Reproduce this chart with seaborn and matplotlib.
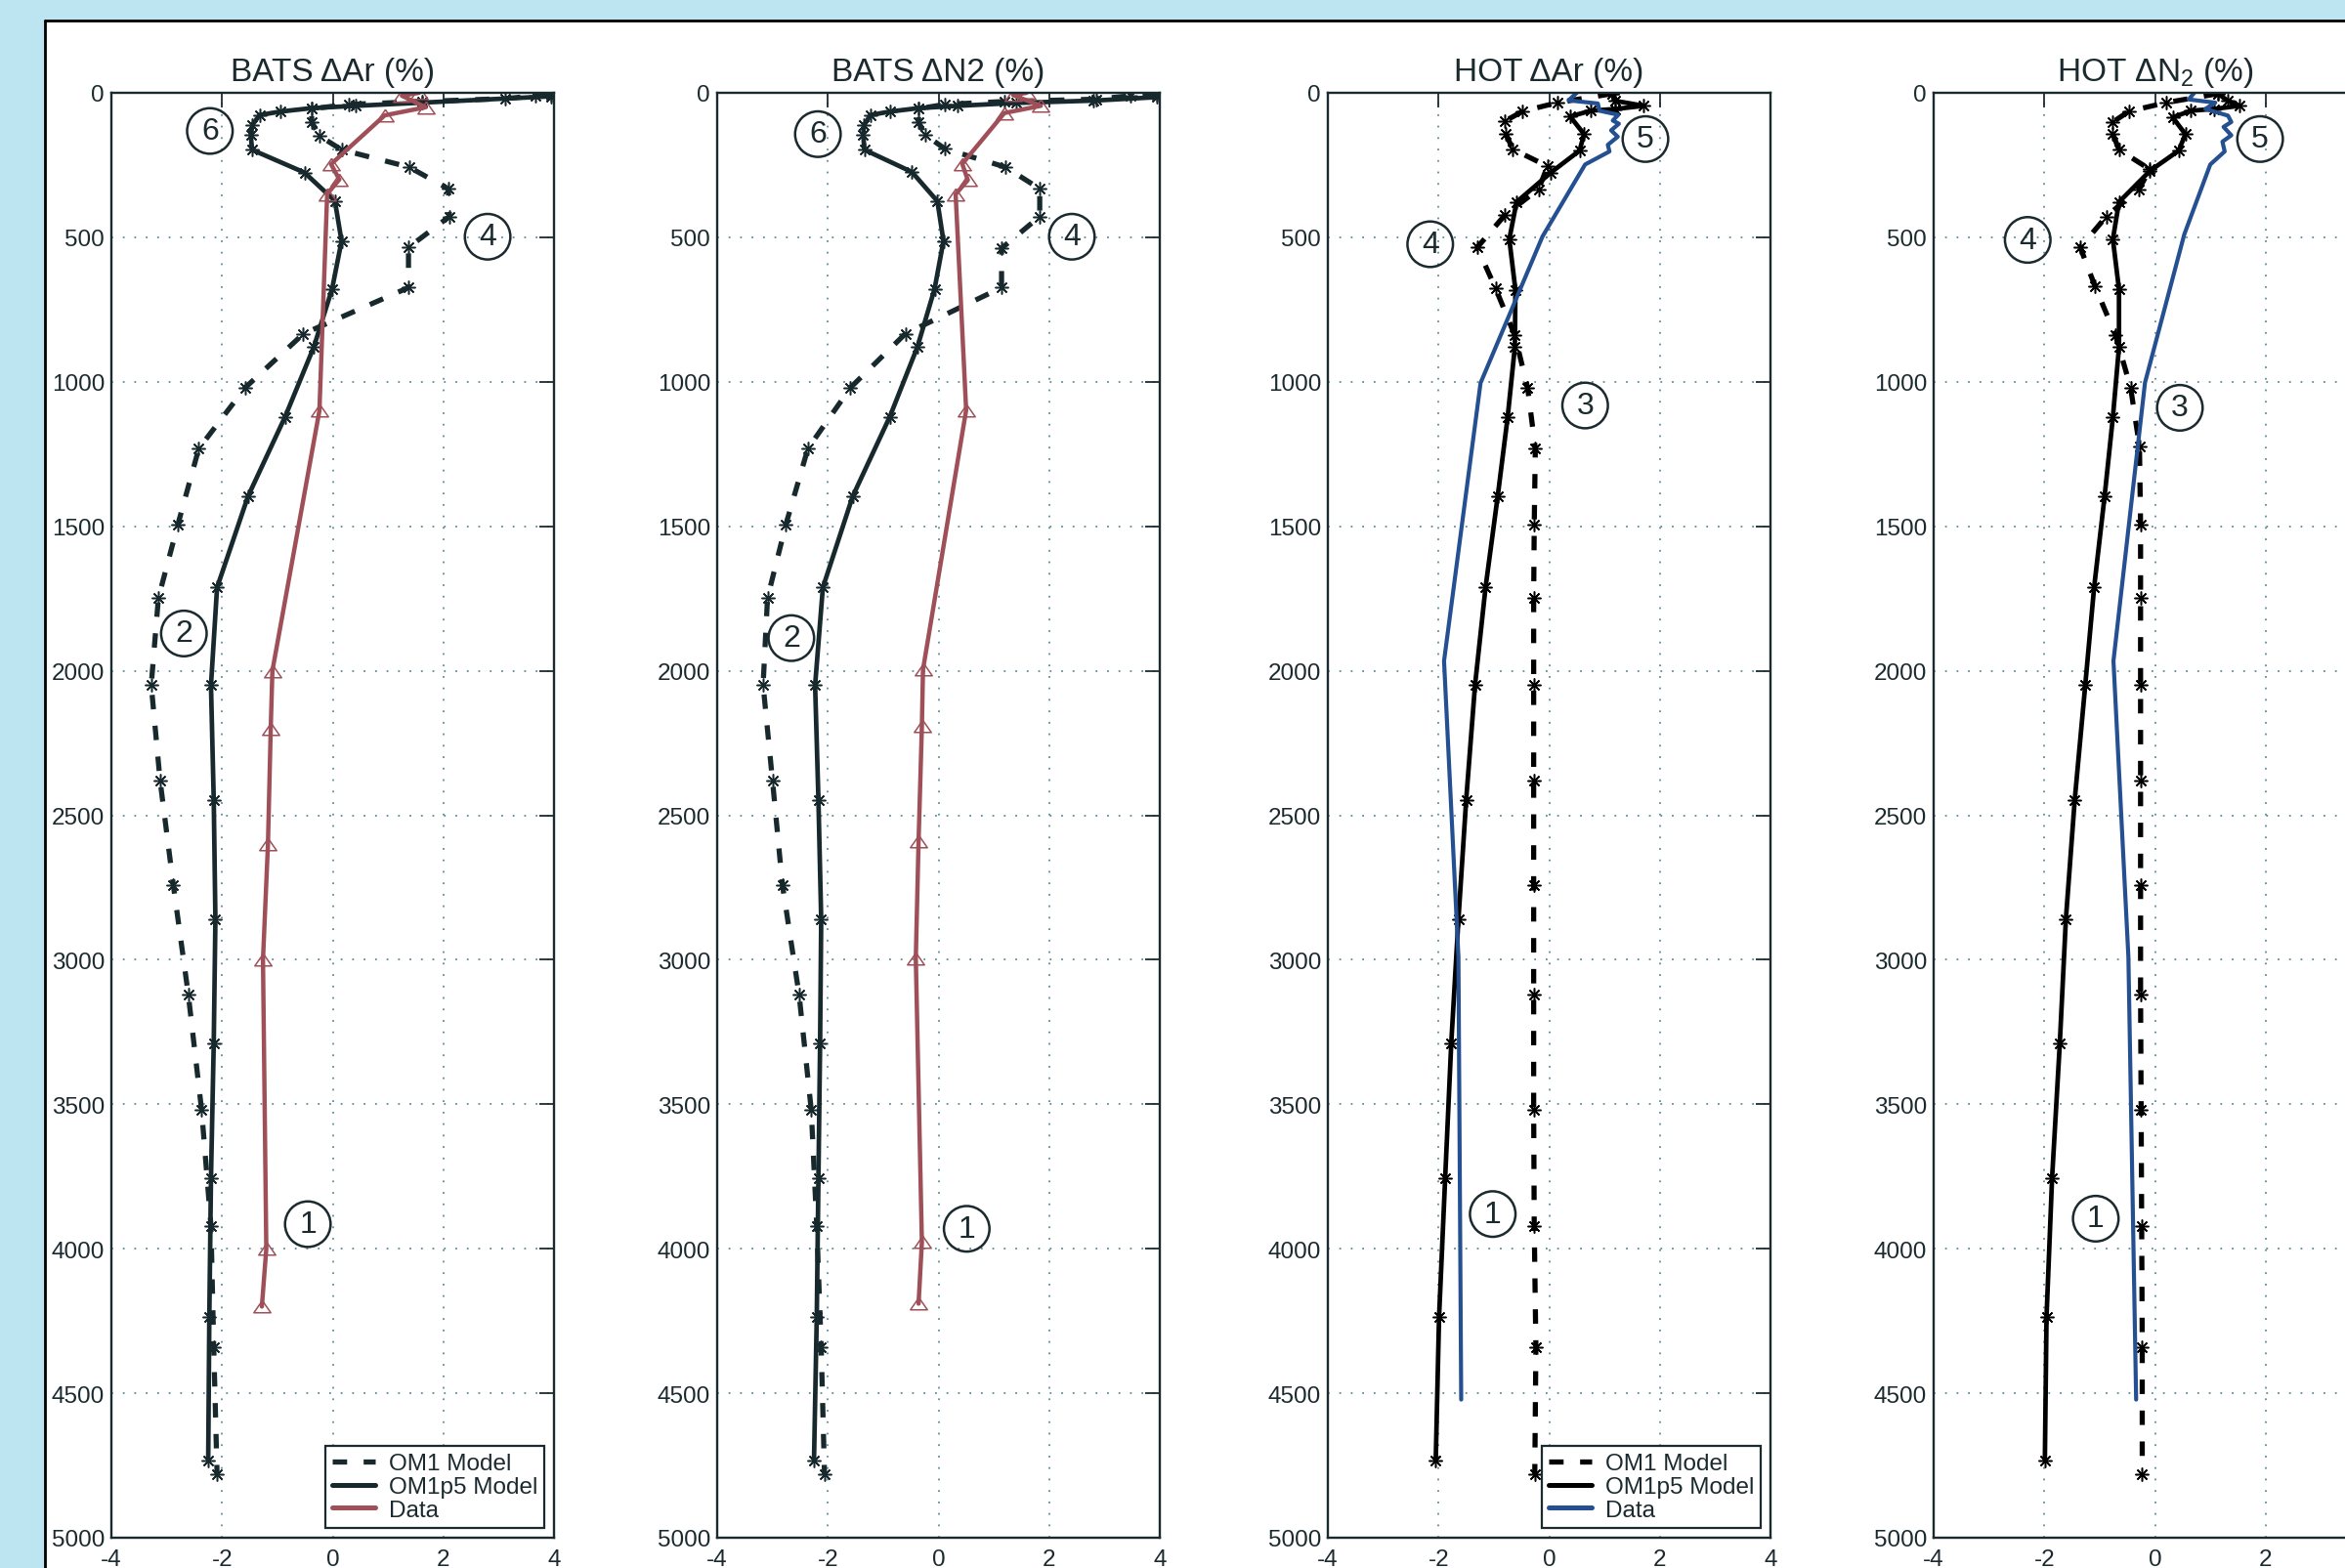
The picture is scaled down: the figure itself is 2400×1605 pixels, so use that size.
import matplotlib
matplotlib.use("Agg")
import matplotlib.pyplot as plt
import seaborn as sns
from matplotlib.lines import Line2D
from matplotlib.patches import Rectangle

# ---------------------------------------------------------------- data
# BATS Delta Ar (%)
bats_ar_om1_depth = [6, 10, 20, 30, 40, 55, 101, 149, 197, 257, 332, 428, 535, 674, 834,
                     1020, 1231, 1495, 1748, 2049, 2380, 2742, 3120, 3519, 3921, 4340, 4780]
bats_ar_om1 = [3.95, 3.67, 3.12, 1.62, 0.3, -0.38, -0.38, -0.24, 0.16, 1.38, 2.09, 2.11, 1.37,
               1.37, -0.53, -1.58, -2.42, -2.8, -3.15, -3.28, -3.12, -2.88, -2.61, -2.37,
               -2.2, -2.15, -2.09]
bats_ar_p5_depth = [12, 34, 45, 53, 65, 77, 110, 144, 197, 276, 374, 513, 678, 879, 1121,
                    1396, 1712, 2050, 2447, 2860, 3290, 3757, 4236, 4733]
bats_ar_p5 = [3.95, 1.62, 0.42, -0.38, -0.95, -1.32, -1.45, -1.48, -1.46, -0.51, 0.04, 0.16,
              -0.01, -0.34, -0.86, -1.53, -2.09, -2.2, -2.15, -2.12, -2.15, -2.2, -2.23, -2.25]
bats_ar_obs_depth = [0, 10, 50, 78, 247, 300, 350, 1100, 2000, 2200, 2600, 3000, 4000, 4200]
bats_ar_obs = [1.56, 1.25, 1.68, 0.94, -0.03, 0.12, -0.1, -0.24, -1.09, -1.12, -1.17, -1.26,
               -1.2, -1.28]

# BATS Delta N2 (%)
bats_n2_om1_depth = [6, 10, 22, 30, 40, 55, 101, 146, 194, 257, 332, 428, 538, 674, 834,
                     1020, 1231, 1495, 1748, 2049, 2380, 2742, 3120, 3519, 3921, 4340, 4780]
bats_n2_om1 = [3.95, 3.47, 2.85, 1.2, 0.12, -0.36, -0.36, -0.24, 0.12, 1.21, 1.83, 1.83, 1.14,
               1.14, -0.6, -1.59, -2.36, -2.76, -3.09, -3.17, -3.0, -2.82, -2.52, -2.3, -2.2,
               -2.12, -2.06]
bats_n2_p5_depth = [15, 27, 35, 45, 53, 65, 77, 113, 144, 197, 274, 375, 513, 678, 879, 1121,
                    1396, 1712, 2050, 2447, 2860, 3290, 3757, 4236, 4733]
bats_n2_p5 = [3.95, 2.8, 1.4, 0.35, -0.36, -0.88, -1.23, -1.35, -1.36, -1.34, -0.48, -0.02,
              0.09, -0.07, -0.38, -0.88, -1.55, -2.09, -2.23, -2.17, -2.12, -2.14, -2.17,
              -2.2, -2.25]
bats_n2_obs_depth = [0, 8, 45, 70, 246, 302, 351, 1098, 1996, 2192, 2590, 2995, 3977, 4190]
bats_n2_obs = [1.59, 1.35, 1.85, 1.19, 0.43, 0.53, 0.31, 0.5, -0.28, -0.3, -0.36, -0.41,
               -0.3, -0.36]

# HOT Delta Ar (%)
hot_ar_om1_depth = [3, 34, 64, 98, 143, 195, 254, 333, 423, 535, 676, 840, 1020, 1231, 1495,
                    1748, 2049, 2380, 2742, 3120, 3519, 3921, 4340, 4780]
hot_ar_om1 = [1.14, 0.15, -0.48, -0.8, -0.78, -0.66, -0.03, -0.19, -0.8, -1.3, -0.97, -0.62,
              -0.39, -0.25, -0.27, -0.28, -0.28, -0.28, -0.28, -0.28, -0.28, -0.27, -0.24,
              -0.26]
hot_ar_p5_depth = [3, 28, 45, 56, 62, 82, 143, 200, 276, 378, 507, 682, 880, 1122, 1396,
                   1712, 2050, 2447, 2860, 3290, 3757, 4236, 4733]
hot_ar_p5 = [1.14, 1.2, 1.71, 1.2, 0.75, 0.38, 0.63, 0.55, 0.03, -0.59, -0.72, -0.61, -0.62,
             -0.75, -0.93, -1.15, -1.34, -1.5, -1.64, -1.77, -1.88, -1.99, -2.05]
hot_ar_obs_depth = [0, 26, 37, 62, 76, 96, 107, 130, 152, 180, 203, 248, 497, 1004, 1966,
                    2990, 4522]
hot_ar_obs = [0.5, 0.35, 0.88, 0.91, 1.25, 1.15, 1.26, 1.12, 1.24, 1.06, 1.09, 0.65, -0.12,
              -1.24, -1.9, -1.64, -1.59]

# HOT Delta N2 (%)
hot_n2_om1_depth = [3, 34, 64, 101, 143, 197, 265, 333, 428, 535, 671, 840, 1020, 1223, 1495,
                    1748, 2049, 2380, 2742, 3120, 3519, 3921, 4340, 4780]
hot_n2_om1 = [1.14, 0.2, -0.47, -0.76, -0.76, -0.65, -0.09, -0.29, -0.88, -1.35, -1.08, -0.71,
              -0.44, -0.28, -0.26, -0.26, -0.26, -0.26, -0.26, -0.26, -0.25, -0.24, -0.23,
              -0.23]
hot_n2_p5_depth = [3, 28, 45, 56, 62, 85, 143, 200, 270, 378, 507, 680, 880, 1122, 1396,
                   1712, 2050, 2447, 2860, 3290, 3757, 4236, 4733]
hot_n2_p5 = [1.14, 1.32, 1.53, 1.06, 0.65, 0.32, 0.55, 0.43, -0.09, -0.65, -0.76, -0.65,
             -0.65, -0.76, -0.91, -1.1, -1.26, -1.45, -1.61, -1.72, -1.86, -1.96, -1.99]
hot_n2_obs_depth = [0, 23, 34, 56, 79, 101, 118, 147, 169, 203, 248, 490, 1003, 1966, 2990,
                    4522]
hot_n2_obs = [0.71, 0.61, 1.09, 0.91, 1.32, 1.38, 1.24, 1.38, 1.22, 1.26, 1.0, 0.53, -0.18,
              -0.75, -0.48, -0.34]

titles = ["BATS \u0394Ar (%)", "BATS \u0394N2 (%)", "HOT \u0394Ar (%)",
          "HOT \u0394N$_{\\mathregular{2}}$ (%)"]
legend_labels = ["OM1 Model", "OM1p5 Model", "Data"]
x_ticks = [-4, -2, 0, 2, 4]
y_ticks = [0, 500, 1000, 1500, 2000, 2500, 3000, 3500, 4000, 4500, 5000]

# circled labels: (text, x, depth)
bats_ar_tags = [("6", -2.22, 132), ("4", 2.8, 498), ("2", -2.69, 1871), ("1", -0.45, 3915)]
bats_n2_tags = [("6", -2.18, 143), ("4", 2.41, 498), ("2", -2.66, 1887), ("1", 0.51, 3931)]
hot_ar_tags = [("5", 1.74, 160), ("4", -2.15, 524), ("3", 0.65, 1082), ("1", -1.02, 3880)]
hot_n2_tags = [("5", 1.9, 160), ("4", -2.3, 509), ("3", 0.45, 1090), ("1", -1.07, 3896)]

# ---------------------------------------------------------------- style
BG = "#bde5f1"
INK = "#1b2a2f"
BATS_LINE = "#17292d"
HOT_LINE = "#000000"
RED = "#9e4f58"
BLUE = "#244f90"
GRID = "#5d8e99"

sns.set_theme(style="white")
plt.rcParams["font.family"] = ["Liberation Sans", "DejaVu Sans"]
plt.rcParams["mathtext.fontset"] = "custom"
plt.rcParams["mathtext.rm"] = "Liberation Sans"

W, H = 2400, 1606
fig = plt.figure(figsize=(W / 100, H / 100), dpi=100, facecolor=BG)

# white sheet with a dark edge on its top and left side
sheet_x, sheet_y = 46 / W, 1 - 22 / H
fig.patches.append(Rectangle((sheet_x, 0), 1 - sheet_x, sheet_y, transform=fig.transFigure,
                             facecolor="white", edgecolor="none", zorder=-10))
fig.add_artist(Line2D([sheet_x, sheet_x], [0, sheet_y], transform=fig.transFigure,
                      color="black", lw=2.0, zorder=-5))
fig.add_artist(Line2D([sheet_x, 1], [sheet_y, sheet_y], transform=fig.transFigure,
                      color="black", lw=2.0, zorder=-5))

panels = [
    (bats_ar_om1_depth, bats_ar_om1, bats_ar_p5_depth, bats_ar_p5,
     bats_ar_obs_depth, bats_ar_obs, BATS_LINE, RED, "^", bats_ar_tags, True),
    (bats_n2_om1_depth, bats_n2_om1, bats_n2_p5_depth, bats_n2_p5,
     bats_n2_obs_depth, bats_n2_obs, BATS_LINE, RED, "^", bats_n2_tags, False),
    (hot_ar_om1_depth, hot_ar_om1, hot_ar_p5_depth, hot_ar_p5,
     hot_ar_obs_depth, hot_ar_obs, HOT_LINE, BLUE, None, hot_ar_tags, True),
    (hot_n2_om1_depth, hot_n2_om1, hot_n2_p5_depth, hot_n2_p5,
     hot_n2_obs_depth, hot_n2_obs, HOT_LINE, BLUE, None, hot_n2_tags, False),
]

lefts = [114, 734, 1359, 1979]
ax_w = 453
top_px, bot_px = 96, 1575

asterisk = (8, 2, 0)
tri = [(0, 0.72), (-1, -0.72), (1, -0.72), (0, 0.72)]
dash = (0, (2.8, 3.2))

for i, (d1, v1, d2, v2, d3, v3, lc, dc, obs_marker, tags, show_legend) in enumerate(panels):
    ax = fig.add_axes([lefts[i] / W, 1 - bot_px / H, ax_w / W, (bot_px - top_px) / H])
    ax.set_facecolor("white")

    sns.lineplot(x=v1, y=d1, sort=False, estimator=None, ax=ax, color=lc, linewidth=3.8,
                 linestyle=dash, marker=asterisk, markersize=10, markeredgecolor=lc,
                 markeredgewidth=1.1, legend=False, zorder=3)
    sns.lineplot(x=v2, y=d2, sort=False, estimator=None, ax=ax, color=lc, linewidth=3.4,
                 marker=asterisk, markersize=10, markeredgecolor=lc,
                 markeredgewidth=1.1, legend=False, zorder=4)
    if obs_marker is not None:
        sns.lineplot(x=v3, y=d3, sort=False, estimator=None, ax=ax, color=dc, linewidth=3.2,
                     marker=tri, markersize=12.5, markerfacecolor="none", markeredgecolor=dc,
                     markeredgewidth=1.1, legend=False, zorder=5)
    else:
        sns.lineplot(x=v3, y=d3, sort=False, estimator=None, ax=ax, color=dc, linewidth=3.0,
                     legend=False, zorder=5)

    ax.set_xlim(-4, 4)
    ax.set_ylim(5000, 0)
    ax.set_xticks(x_ticks)
    ax.set_yticks(y_ticks)
    ax.set_xticklabels([str(t) for t in x_ticks])
    ax.set_yticklabels([str(t) for t in y_ticks])
    ax.set_xlabel("")
    ax.set_ylabel("")
    ax.tick_params(axis="both", direction="in", length=10.5, width=1.3, color=INK,
                   top=True, right=True, labelsize=17.5, labelcolor=INK)
    ax.tick_params(axis="x", pad=8)
    ax.tick_params(axis="y", pad=5)
    ax.grid(True, linestyle=(0, (1, 5.5)), color=GRID, linewidth=1.3)
    ax.set_axisbelow(True)
    for sp in ax.spines.values():
        sp.set_visible(True)
        sp.set_color(INK)
        sp.set_linewidth(1.7)
        sp.set_zorder(6)

    ax.set_title(titles[i], fontsize=24, color=INK, pad=9)

    for txt, tx, ty in tags:
        ax.text(tx, ty, txt, fontsize=23, color=INK, ha="center", va="center", zorder=7,
                bbox=dict(boxstyle="circle,pad=0.26", fc="none", ec=INK, lw=1.8))

    if show_legend:
        handles = [Line2D([], [], color=lc, lw=3.8, linestyle=dash),
                   Line2D([], [], color=lc, lw=3.6),
                   Line2D([], [], color=dc, lw=3.6)]
        leg = ax.legend(handles, legend_labels, loc="lower right", fontsize=17.5,
                        frameon=True, fancybox=False, framealpha=1, edgecolor=INK,
                        borderpad=0.3, labelspacing=0.08, handlelength=1.8,
                        handletextpad=0.55, borderaxespad=0.4)
        leg.get_frame().set_linewidth(1.6)
        leg.set_zorder(8)
        for t in leg.get_texts():
            t.set_color(INK)

fig.savefig("out.png", dpi=100, facecolor=BG)
